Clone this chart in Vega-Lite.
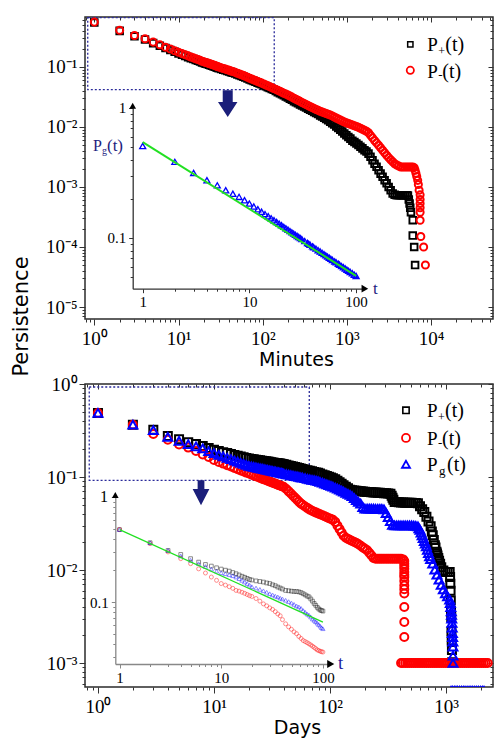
{
  "$schema": "https://vega.github.io/schema/vega-lite/v6.json",
  "background": "white",
  "padding": {"left": 9, "top": 10, "right": 5, "bottom": 5},
  "bounds": "flush",
  "spacing": 65,
  "config": {
    "view": {"stroke": "#2b2b2b", "strokeWidth": 1.5},
    "axis": {"grid": false, "domain": false, "labelFont": "Liberation Serif", "labelColor": "#000", "tickColor": "#333", "tickWidth": 1, "titleFont": "DejaVu Sans", "titleFontWeight": "normal", "titleColor": "#000", "labelOverlap": false, "labelFlush": false},
    "text": {"font": "Liberation Serif"}
  },
  "datasets": {
    "minutes": [
      {"t":1,"p":0.55,"m":0.56},{"t":2,"p":0.4,"m":0.41},{"t":3,"p":0.325,"m":0.335},{"t":4,"p":0.288,"m":0.295},{"t":5,"p":0.25,"m":0.26},{"t":6,"p":0.226,"m":0.234},{"t":7,"p":0.207,"m":0.214},{"t":8,"p":0.192,"m":0.199},{"t":9,"p":0.18,"m":0.187},{"t":10,"p":0.168,"m":0.176},
      {"t":11,"p":0.1595,"m":0.167},{"t":12,"p":0.1528,"m":0.16},{"t":13,"p":0.1461,"m":0.153},{"t":14,"p":0.1404,"m":0.147},{"t":15,"p":0.1356,"m":0.142},{"t":16,"p":0.1308,"m":0.137},{"t":17,"p":0.127,"m":0.133},{"t":18,"p":0.1232,"m":0.129},{"t":19,"p":0.1194,"m":0.125},{"t":20,"p":0.1165,"m":0.122},
      {"t":21,"p":0.1136,"m":0.119},{"t":22,"p":0.1117,"m":0.117},{"t":23,"p":0.1093,"m":0.1145},{"t":24,"p":0.107,"m":0.112},{"t":25,"p":0.105,"m":0.11},{"t":26,"p":0.1031,"m":0.108},{"t":27,"p":0.1012,"m":0.106},{"t":28,"p":0.0993,"m":0.104},{"t":29,"p":0.0974,"m":0.102},{"t":30,"p":0.0955,"m":0.1},
      {"t":32,"p":0.0927,"m":0.0971},{"t":34,"p":0.0902,"m":0.0945},{"t":36,"p":0.0881,"m":0.0922},{"t":38,"p":0.086,"m":0.09},{"t":40,"p":0.0839,"m":0.0879},{"t":42,"p":0.0821,"m":0.086},{"t":44,"p":0.0802,"m":0.084},{"t":47,"p":0.0776,"m":0.0813},{"t":50,"p":0.0753,"m":0.0788},{"t":53,"p":0.0731,"m":0.0765},
      {"t":56,"p":0.0709,"m":0.0742},{"t":59,"p":0.0688,"m":0.072},{"t":62,"p":0.0668,"m":0.0699},{"t":66,"p":0.0643,"m":0.0673},{"t":70,"p":0.0621,"m":0.065},{"t":74,"p":0.0602,"m":0.063},{"t":78,"p":0.0584,"m":0.0611},{"t":82,"p":0.0567,"m":0.0594},{"t":87,"p":0.0548,"m":0.0574},{"t":92,"p":0.0531,"m":0.0556},
      {"t":97,"p":0.0515,"m":0.0539},{"t":103,"p":0.0494,"m":0.052},{"t":109,"p":0.0477,"m":0.0502},{"t":115,"p":0.0462,"m":0.0486},{"t":121,"p":0.0447,"m":0.047},{"t":128,"p":0.0431,"m":0.0454},{"t":135,"p":0.0417,"m":0.0439},{"t":143,"p":0.0398,"m":0.0423},{"t":151,"p":0.0381,"m":0.0408},{"t":160,"p":0.0365,"m":0.0393},
      {"t":169,"p":0.0351,"m":0.0379},{"t":178,"p":0.0337,"m":0.0366},{"t":188,"p":0.0324,"m":0.0354},{"t":199,"p":0.031,"m":0.0341},{"t":210,"p":0.0297,"m":0.0328},{"t":222,"p":0.0284,"m":0.0315},{"t":235,"p":0.027,"m":0.0302},{"t":248,"p":0.0258,"m":0.029},{"t":262,"p":0.0248,"m":0.0279},{"t":277,"p":0.0238,"m":0.0267},
      {"t":293,"p":0.0228,"m":0.0256},{"t":310,"p":0.0219,"m":0.0246},{"t":327,"p":0.0211,"m":0.0237},{"t":346,"p":0.0202,"m":0.0227},{"t":365,"p":0.0194,"m":0.0219},{"t":386,"p":0.0186,"m":0.0211},{"t":408,"p":0.0178,"m":0.0203},{"t":431,"p":0.0171,"m":0.0196},{"t":455,"p":0.0164,"m":0.0189},{"t":481,"p":0.0156,"m":0.0183},
      {"t":508,"p":0.015,"m":0.0178},{"t":537,"p":0.0143,"m":0.0173},{"t":567,"p":0.0136,"m":0.0168},{"t":599,"p":0.0129,"m":0.0163},{"t":633,"p":0.0122,"m":0.0158},{"t":669,"p":0.0116,"m":0.0153},{"t":707,"p":0.011,"m":0.0147},{"t":747,"p":0.0102,"m":0.0141},{"t":789,"p":0.0096,"m":0.0136},{"t":834,"p":0.009,"m":0.0131},
      {"t":881,"p":0.0084,"m":0.0126},{"t":931,"p":0.0078,"m":0.0121},{"t":984,"p":0.0073,"m":0.0118},{"t":1040,"p":0.0068,"m":0.0114},{"t":1099,"p":0.0064,"m":0.0111},{"t":1161,"p":0.0059,"m":0.0108},{"t":1227,"p":0.0056,"m":0.0105},{"t":1296,"p":0.0053,"m":0.0102},{"t":1370,"p":0.005,"m":0.00985},{"t":1447,"p":0.0047,"m":0.0095},
      {"t":1529,"p":0.0044,"m":0.00916},{"t":1616,"p":0.0041,"m":0.00882},{"t":1707,"p":0.0039,"m":0.0085},{"t":1804,"p":0.0036,"m":0.008},{"t":1906,"p":0.0032,"m":0.00726},{"t":2014,"p":0.0028,"m":0.00658},{"t":2128,"p":0.00244,"m":0.00596},{"t":2249,"p":0.00217,"m":0.00543},{"t":2376,"p":0.0019,"m":0.00495},{"t":2511,"p":0.00167,"m":0.00451},
      {"t":2653,"p":0.00148,"m":0.0041},{"t":2803,"p":0.0013,"m":0.00373},{"t":2962,"p":0.00115,"m":0.00339},{"t":3130,"p":0.001,"m":0.00309},{"t":3307,"p":0.00088,"m":0.00285},{"t":3494,"p":0.00078,"m":0.00263},{"t":3692,"p":0.00074,"m":0.00244},{"t":3901,"p":0.00073,"m":0.00233},{"t":4122,"p":0.00073,"m":0.00224},{"t":4356,"p":0.00073,"m":0.00215},
      {"t":4603,"p":0.00073,"m":0.00215},{"t":4863,"p":0.00073,"m":0.00215},{"t":5139,"p":0.00073,"m":0.00215},{"t":5300,"p":0.00072},{"t":5430,"p":0.00062,"m":0.00215},{"t":5550,"p":0.00053},{"t":5650,"p":0.00045},{"t":5737,"m":0.00215},{"t":5760,"p":0.00038},{"t":6050,"p":0.00028},{"t":6050,"p":0.000155},{"t":6062,"m":0.00215},{"t":6290,"p":0.0001},{"t":6300,"m":0.0021},{"t":6450,"p":0.00005,"m":0.0019},
      {"t":6600,"m":0.0017},{"t":6750,"m":0.0015},{"t":6930,"m":0.00129},{"t":7050,"m":0.0011},{"t":7200,"m":0.00088},{"t":7400,"m":0.00074},{"t":7400,"m":0.00062},{"t":7400,"m":0.00053},{"t":7400,"m":0.00045},{"t":7400,"m":0.00038},{"t":7400,"m":0.00028},{"t":7540,"m":0.00015},{"t":8150,"m":0.0001},{"t":8550,"m":0.00005}
    ],
    "minutesPg": [{"t":1,"g":0.51},{"t":2,"g":0.385},{"t":3,"g":0.316},{"t":4,"g":0.278},{"t":5,"g":0.254},{"t":6,"g":0.233},{"t":7,"g":0.219},{"t":8,"g":0.207},{"t":9,"g":0.195},{"t":10,"g":0.184},{"t":11,"g":0.1746},{"t":12,"g":0.1663},{"t":13,"g":0.1591},{"t":14,"g":0.1527},{"t":15,"g":0.1469},{"t":16,"g":0.1417},{"t":17,"g":0.137},{"t":18,"g":0.1327},{"t":19,"g":0.1288},{"t":20,"g":0.1252},{"t":21,"g":0.1218},{"t":22,"g":0.1187},{"t":23,"g":0.1157},{"t":24,"g":0.113},{"t":25,"g":0.1105},{"t":26,"g":0.1081},{"t":27,"g":0.1058},{"t":28,"g":0.1037},{"t":29,"g":0.1017},{"t":30,"g":0.0998},{"t":31,"g":0.098},{"t":33,"g":0.0947},{"t":35,"g":0.0916},{"t":36,"g":0.0902},{"t":37,"g":0.0888},{"t":39,"g":0.0862},{"t":40,"g":0.085},{"t":42,"g":0.0828},{"t":44,"g":0.0806},{"t":46,"g":0.0787},{"t":48,"g":0.0768},{"t":50,"g":0.0751},{"t":52,"g":0.0735},{"t":54,"g":0.0719},{"t":56,"g":0.0705},{"t":58,"g":0.0691},{"t":60,"g":0.0678},{"t":63,"g":0.066},{"t":65,"g":0.0649},{"t":68,"g":0.0633},{"t":70,"g":0.0623},{"t":73,"g":0.0608},{"t":76,"g":0.0595},{"t":79,"g":0.0582},{"t":82,"g":0.057},{"t":85,"g":0.0559},{"t":88,"g":0.0548},{"t":92,"g":0.0535},{"t":96,"g":0.0522},{"t":100,"g":0.051}],
    "minutesFit": [{"t":1,"g":0.547},{"t":100,"g":0.051}],
    "days": [
      {"t":1,"p":0.488,"m":0.488,"g":0.488},{"t":2,"p":0.365,"m":0.365,"g":0.365},{"t":3,"p":0.322,"m":0.29,"g":0.32},{"t":4,"p":0.276,"m":0.252,"g":0.27},{"t":5,"p":0.254,"m":0.224,"g":0.244},{"t":6,"p":0.236,"m":0.207,"g":0.226},{"t":7,"p":0.226,"m":0.19,"g":0.213},{"t":8,"p":0.216,"m":0.175,"g":0.203},{"t":9,"p":0.205,"m":0.164,"g":0.19},{"t":10,"p":0.196,"m":0.152,"g":0.181},
      {"t":11,"p":0.1903,"m":0.1452,"g":0.1732},{"t":12,"p":0.1851,"m":0.1393,"g":0.1666},{"t":13,"p":0.1808,"m":0.134,"g":0.1606},{"t":14,"p":0.1765,"m":0.1295,"g":0.1552},{"t":15,"p":0.1727,"m":0.1251,"g":0.1504},{"t":16,"p":0.1693,"m":0.1212,"g":0.146},{"t":17,"p":0.1661,"m":0.1177,"g":0.142},{"t":18,"p":0.1632,"m":0.1145,"g":0.1384},{"t":19,"p":0.1605,"m":0.1115,"g":0.135},{"t":20,"p":0.158,"m":0.109,"g":0.132},
      {"t":21,"p":0.1564,"m":0.1065,"g":0.1302},{"t":22,"p":0.155,"m":0.1041,"g":0.1285},{"t":23,"p":0.1536,"m":0.1019,"g":0.1269},{"t":24,"p":0.1522,"m":0.0998,"g":0.1254},{"t":25,"p":0.151,"m":0.0979,"g":0.124},{"t":26,"p":0.1498,"m":0.096,"g":0.1227},{"t":27,"p":0.1486,"m":0.0943,"g":0.1214},{"t":28,"p":0.1475,"m":0.0927,"g":0.1202},{"t":29,"p":0.1465,"m":0.0911,"g":0.119},{"t":30,"p":0.1455,"m":0.0897,"g":0.1179},
      {"t":31,"p":0.1445,"m":0.0883,"g":0.1169},{"t":32,"p":0.1436,"m":0.0869,"g":0.1159},{"t":33,"p":0.1427,"m":0.0857,"g":0.1149},{"t":34,"p":0.1418,"m":0.0845,"g":0.1139},{"t":35,"p":0.141,"m":0.0833,"g":0.113},{"t":36,"p":0.1402,"m":0.0822,"g":0.1121},{"t":37,"p":0.1394,"m":0.0811,"g":0.1113},{"t":38,"p":0.1387,"m":0.0801,"g":0.1105},{"t":39,"p":0.1379,"m":0.0791,"g":0.1097},{"t":40,"p":0.1372,"m":0.0782,"g":0.109},
      {"t":42,"p":0.1353,"m":0.0743,"g":0.1075},{"t":44,"p":0.1333,"m":0.0701,"g":0.1061},{"t":46,"p":0.1314,"m":0.0664,"g":0.1048},{"t":48,"p":0.1296,"m":0.0629,"g":0.1036},{"t":50,"p":0.128,"m":0.0597,"g":0.1024},{"t":52,"p":0.1264,"m":0.0569,"g":0.1013},{"t":54,"p":0.1249,"m":0.0543,"g":0.1003},{"t":56,"p":0.1235,"m":0.0519,"g":0.0993},{"t":58,"p":0.1221,"m":0.0503,"g":0.0983},{"t":61,"p":0.1202,"m":0.0482,"g":0.097},
      {"t":64,"p":0.1184,"m":0.0463,"g":0.0957},{"t":67,"p":0.1166,"m":0.0446,"g":0.0945},{"t":70,"p":0.115,"m":0.0433,"g":0.0934},{"t":73,"p":0.1135,"m":0.0423,"g":0.0923},{"t":76,"p":0.112,"m":0.0414,"g":0.0913},{"t":79,"p":0.1108,"m":0.0405,"g":0.0904},{"t":82,"p":0.1088,"m":0.0398,"g":0.0887},{"t":86,"p":0.1065,"m":0.0388,"g":0.0868},{"t":90,"p":0.1044,"m":0.0378,"g":0.085},{"t":94,"p":0.1024,"m":0.0369,"g":0.0833},
      {"t":98,"p":0.1006,"m":0.0361,"g":0.0817},{"t":102,"p":0.0989,"m":0.0354,"g":0.0802},{"t":106,"p":0.0972,"m":0.0346,"g":0.0788},{"t":111,"p":0.0945,"m":0.0329,"g":0.0771},{"t":116,"p":0.0909,"m":0.03,"g":0.0751},{"t":121,"p":0.0876,"m":0.0275,"g":0.0731},{"t":126,"p":0.0845,"m":0.0253,"g":0.0713},{"t":131,"p":0.0817,"m":0.0233,"g":0.0695},{"t":137,"p":0.0786,"m":0.0222,"g":0.0676},{"t":143,"p":0.0757,"m":0.0216,"g":0.066},
      {"t":149,"p":0.073,"m":0.021,"g":0.0643},{"t":155,"p":0.0719,"m":0.0205,"g":0.0622},{"t":162,"p":0.0714,"m":0.02,"g":0.0593},{"t":169,"p":0.071,"m":0.0195,"g":0.0565},{"t":176,"p":0.0706,"m":0.0189,"g":0.054},{"t":184,"p":0.0702,"m":0.0182,"g":0.0516},{"t":192,"p":0.0698,"m":0.0175,"g":0.0475},{"t":200,"p":0.0694,"m":0.0169,"g":0.0456},{"t":209,"p":0.069,"m":0.0163,"g":0.0456},{"t":218,"p":0.0688,"m":0.0153,"g":0.0456},
      {"t":227,"p":0.0686,"m":0.0144,"g":0.0456},{"t":237,"p":0.0683,"m":0.0135,"g":0.0456},{"t":247,"p":0.0681,"m":0.0132,"g":0.0455},{"t":258,"p":0.0678,"m":0.0132,"g":0.0455},{"t":269,"p":0.0676,"m":0.0132,"g":0.0455},{"t":280,"p":0.0673,"m":0.0132,"g":0.0453},{"t":292,"p":0.067,"m":0.0132,"g":0.0448},{"t":305,"p":0.0667,"m":0.0132,"g":0.041},{"t":318,"p":0.0664,"m":0.0132,"g":0.037},{"t":332,"p":0.0661,"m":0.0132,"g":0.0335},
      {"t":340,"p":0.063},{"t":346,"p":0.06,"m":0.0132,"g":0.0305},{"t":352,"p":0.057},{"t":361,"p":0.0539,"m":0.0132,"g":0.0302},{"t":376,"p":0.0537,"m":0.0132,"g":0.0302},{"t":392,"p":0.0535,"m":0.0132,"g":0.0302},{"t":409,"p":0.0533,"m":0.0132,"g":0.0302},{"t":427,"p":0.0531,"m":0.013,"g":0.0302},
      {"t":437,"m":0.0125},{"t":437,"m":0.0117},{"t":437,"m":0.011},{"t":437,"m":0.0103},{"t":437,"m":0.0095},{"t":437,"m":0.0089},{"t":437,"m":0.0084},{"t":437,"m":0.0076},{"t":437,"m":0.0068},{"t":437,"m":0.0062},{"t":437,"m":0.0056},{"t":437,"m":0.004},{"t":437,"m":0.00276},{"t":437,"m":0.0019},
      {"t":445,"p":0.053,"g":0.0302},{"t":464,"p":0.0529,"g":0.0302},{"t":484,"p":0.0528,"g":0.0302},{"t":505,"p":0.0527,"g":0.0301},{"t":527,"p":0.0526,"g":0.03},{"t":549,"p":0.0525,"g":0.0298},{"t":573,"p":0.0523,"g":0.0294},{"t":585,"g":0.028},{"t":597,"p":0.0485,"g":0.027},{"t":610,"g":0.0252},
      {"t":623,"p":0.0451,"g":0.0235},{"t":636,"g":0.022},{"t":650,"p":0.042,"g":0.0205},{"t":664,"g":0.0192},{"t":678,"p":0.0373,"g":0.018},{"t":692,"g":0.0165},{"t":707,"p":0.0332,"g":0.0152},{"t":722,"g":0.014},{"t":737,"p":0.0296,"g":0.0131},{"t":755,"p":0.026},
      {"t":769,"p":0.0236,"g":0.0117},{"t":785,"p":0.021},{"t":802,"p":0.0185,"g":0.0101},{"t":812,"p":0.0175},{"t":828,"p":0.0157},{"t":836,"p":0.015,"g":0.0089},{"t":845,"p":0.0143},{"t":858,"p":0.0135},{"t":872,"p":0.0126,"g":0.0079},{"t":890,"p":0.0117},
      {"t":910,"p":0.0107,"g":0.0069},{"t":949,"p":0.0099,"g":0.0062},{"t":990,"p":0.0095,"g":0.0056},{"t":1032,"p":0.0095,"g":0.0052},{"t":1076,"p":0.0095,"g":0.0048},
      {"t":1085,"p":0.0084},{"t":1090,"p":0.0071,"g":0.0044},{"t":1095,"p":0.006},{"t":1100,"p":0.0047,"g":0.004},{"t":1105,"p":0.0036},{"t":1110,"p":0.0031,"g":0.0036},{"t":1115,"p":0.0022,"g":0.0033},{"t":1120,"p":0.00175,"g":0.003},{"t":1125,"p":0.00138,"g":0.0027},{"t":1130,"p":0.00102,"g":0.0024},
      {"t":1135,"g":0.0021},{"t":1140,"g":0.0019},{"t":1145,"g":0.0017},{"t":1148,"g":0.0015},{"t":1150,"g":0.0012},
      {"t":410,"m":0.001},{"t":425,"m":0.001},{"t":445,"m":0.001},{"t":464,"m":0.001},{"t":484,"m":0.001},{"t":505,"m":0.001},{"t":527,"m":0.001},{"t":549,"m":0.001},{"t":573,"m":0.001},{"t":597,"m":0.001},{"t":623,"m":0.001},{"t":650,"m":0.001},{"t":678,"m":0.001},{"t":707,"m":0.001},{"t":737,"m":0.001},{"t":769,"m":0.001},{"t":802,"m":0.001},{"t":836,"m":0.001},{"t":872,"m":0.001},{"t":910,"m":0.001},{"t":949,"m":0.001},
      {"t":990,"m":0.001},{"t":1032,"m":0.001},{"t":1076,"m":0.001},{"t":1122,"m":0.001},{"t":1170,"m":0.001},{"t":1220,"m":0.001},{"t":1272,"m":0.001},{"t":1327,"m":0.001},{"t":1384,"m":0.001},{"t":1443,"m":0.001},{"t":1505,"m":0.001},{"t":1570,"m":0.001},{"t":1637,"m":0.001},{"t":1707,"m":0.001},{"t":1780,"m":0.001},{"t":1857,"m":0.001},{"t":1936,"m":0.001},{"t":2019,"m":0.001},{"t":2106,"m":0.001},{"t":2196,"m":0.001},{"t":2290,"m":0.001},
      {"t":1150,"g":0.001},
      {"t":1105,"g":0.0005},{"t":1140,"g":0.0005},{"t":1180,"g":0.0005},{"t":1220,"g":0.0005},{"t":1260,"g":0.0005},{"t":1310,"g":0.0005},{"t":1360,"g":0.0005},{"t":1410,"g":0.0005},{"t":1460,"g":0.0005},{"t":1520,"g":0.0005},{"t":1580,"g":0.0005},{"t":1640,"g":0.0005},{"t":1700,"g":0.0005},{"t":1770,"g":0.0005},{"t":1840,"g":0.0005},{"t":1910,"g":0.0005},{"t":1990,"g":0.0005},{"t":2060,"g":0.0005},{"t":2128,"g":0.0005}
    ],
    "daysInset": [
      {"t":1,"p":0.49,"m":0.49,"g":0.49},{"t":2,"p":0.367,"m":0.36,"g":0.367},{"t":3,"p":0.31,"m":0.3,"g":0.31},{"t":4,"p":0.284,"m":0.259,"g":0.275},{"t":5,"p":0.259,"m":0.232,"g":0.25},{"t":6,"p":0.24,"m":0.207,"g":0.232},{"t":7,"p":0.228,"m":0.189,"g":0.218},{"t":8,"p":0.22,"m":0.173,"g":0.206},{"t":9,"p":0.212,"m":0.161,"g":0.197},{"t":10,"p":0.206,"m":0.15,"g":0.19},
      {"t":11,"p":0.201,"m":0.145,"g":0.186},{"t":12,"p":0.197,"m":0.14,"g":0.182},{"t":13,"p":0.191,"m":0.135,"g":0.178},{"t":14,"p":0.186,"m":0.129,"g":0.173},{"t":15,"p":0.181,"m":0.127,"g":0.167},{"t":16,"p":0.176,"m":0.124,"g":0.161},{"t":17,"p":0.172,"m":0.121,"g":0.155},{"t":18,"p":0.168,"m":0.118,"g":0.15},{"t":19,"p":0.164,"m":0.115,"g":0.145},{"t":20,"p":0.162,"m":0.113,"g":0.14},
      {"t":22,"p":0.159,"m":0.108,"g":0.136},{"t":24,"p":0.157,"m":0.102,"g":0.132},{"t":26,"p":0.155,"m":0.096,"g":0.128},{"t":28,"p":0.152,"m":0.092,"g":0.124},{"t":30,"p":0.15,"m":0.088,"g":0.12},{"t":32,"p":0.146,"m":0.085,"g":0.117},{"t":34,"p":0.143,"m":0.081,"g":0.114},{"t":36,"p":0.139,"m":0.077,"g":0.112},{"t":38,"p":0.136,"m":0.074,"g":0.109},{"t":40,"p":0.133,"m":0.068,"g":0.107},
      {"t":43,"p":0.129,"m":0.062,"g":0.104},{"t":46,"p":0.128,"m":0.058,"g":0.101},{"t":49,"p":0.127,"m":0.055,"g":0.098},{"t":52,"p":0.126,"m":0.052,"g":0.095},{"t":55,"p":0.126,"m":0.05,"g":0.092},{"t":58,"p":0.125,"m":0.047,"g":0.09},{"t":61,"p":0.123,"m":0.045,"g":0.087},{"t":64,"p":0.12,"m":0.043,"g":0.083},{"t":67,"p":0.117,"m":0.042,"g":0.08},{"t":70,"p":0.114,"m":0.041,"g":0.077},
      {"t":73,"p":0.112,"m":0.04,"g":0.075},{"t":76,"p":0.107,"m":0.039,"g":0.072},{"t":79,"p":0.102,"m":0.038,"g":0.069},{"t":82,"p":0.097,"m":0.037,"g":0.067},{"t":85,"p":0.093,"m":0.036,"g":0.065},{"t":88,"p":0.089,"m":0.035,"g":0.063},{"t":91,"p":0.086,"m":0.0345,"g":0.061},{"t":94,"p":0.084,"m":0.034,"g":0.059},{"t":97,"p":0.083,"m":0.0337,"g":0.057},{"t":100,"p":0.082,"m":0.0334,"g":0.0557}
    ],
    "daysFit": [{"t":1,"g":0.49},{"t":100,"g":0.0645}]
  },
  "vconcat": [
    {
      "width": 408,
      "height": 302,
      "resolve": {"scale": {"x": "independent", "y": "independent"}},
      "layer": [
        {
          "data": {"values": [{}]},
          "mark": {"type": "rect", "filled": false, "stroke": "#2a2a9a", "strokeWidth": 1.3, "strokeDash": [2, 2]},
          "encoding": {
            "x": {"datum": 0.835, "type": "quantitative", "scale": {"type": "log", "domain": [0.775, 54300], "nice": false},
              "axis": {"orient": "bottom", "offset": -302, "labels": false, "title": null, "tickCount": 60, "values": [0.8,0.9,1,2,3,4,5,6,7,8,9,10,20,30,40,50,60,70,80,90,100,200,300,400,500,600,700,800,900,1000,2000,3000,4000,5000,6000,7000,8000,9000,10000,20000,30000,40000,50000],
                "tickSize": {"condition": {"test": "abs(log(datum.value)/LN10-round(log(datum.value)/LN10))<0.01", "value": 5}, "value": 3}}},
            "x2": {"datum": 137},
            "y": {"datum": 0.664, "type": "quantitative", "scale": {"type": "log", "domain": [6.31e-6, 0.681], "nice": false},
              "axis": {"orient": "left", "offset": -408, "labels": false, "title": null, "tickCount": 60, "values": [7e-6,8e-6,9e-6,1e-5,2e-5,3e-5,4e-5,5e-5,6e-5,7e-5,8e-5,9e-5,1e-4,2e-4,3e-4,4e-4,5e-4,6e-4,7e-4,8e-4,9e-4,0.001,0.002,0.003,0.004,0.005,0.006,0.007,0.008,0.009,0.01,0.02,0.03,0.04,0.05,0.06,0.07,0.08,0.09,0.1,0.2,0.3,0.4,0.5,0.6],
                "tickSize": {"condition": {"test": "abs(log(datum.value)/LN10-round(log(datum.value)/LN10))<0.01", "value": 5}, "value": 3}}},
            "y2": {"datum": 0.0418}
          }
        },
        {
          "data": {"name": "minutes"},
          "transform": [{"filter": "datum.p > 0"}],
          "mark": {"type": "point", "shape": "square", "size": 44, "filled": false, "color": "#000000", "strokeWidth": 1.9, "opacity": 1},
          "encoding": {
            "x": {"field": "t", "type": "quantitative", "scale": {"type": "log", "domain": [0.775, 54300], "nice": false},
              "axis": {"orient": "bottom", "tickCount": 60, "values": [0.8,0.9,1,2,3,4,5,6,7,8,9,10,20,30,40,50,60,70,80,90,100,200,300,400,500,600,700,800,900,1000,2000,3000,4000,5000,6000,7000,8000,9000,10000,20000,30000,40000,50000],
                "labelExpr": "abs(log(datum.value)/LN10-round(log(datum.value)/LN10))<0.01 ? '10'+['⁻⁵','⁻⁴','⁻³','⁻²','⁻¹','⁰','¹','²','³','⁴'][round(log(datum.value)/LN10)+5] : ''",
                "tickSize": {"condition": {"test": "abs(log(datum.value)/LN10-round(log(datum.value)/LN10))<0.01", "value": 6}, "value": 3},
                "labelFontSize": 19, "labelPadding": 4,
                "title": "Minutes", "titleFontSize": 19, "titleX": 211, "titleY": 46, "titleBaseline": "alphabetic", "titleAlign": "center"}},
            "y": {"field": "p", "type": "quantitative", "scale": {"type": "log", "domain": [6.31e-6, 0.681], "nice": false},
              "axis": {"orient": "left", "tickCount": 60, "values": [7e-6,8e-6,9e-6,1e-5,2e-5,3e-5,4e-5,5e-5,6e-5,7e-5,8e-5,9e-5,1e-4,2e-4,3e-4,4e-4,5e-4,6e-4,7e-4,8e-4,9e-4,0.001,0.002,0.003,0.004,0.005,0.006,0.007,0.008,0.009,0.01,0.02,0.03,0.04,0.05,0.06,0.07,0.08,0.09,0.1,0.2,0.3,0.4,0.5,0.6],
                "labelExpr": "abs(log(datum.value)/LN10-round(log(datum.value)/LN10))<0.01 ? '10'+['⁻⁵','⁻⁴','⁻³','⁻²','⁻¹','⁰','¹','²','³','⁴'][round(log(datum.value)/LN10)+5] : ''",
                "tickSize": {"condition": {"test": "abs(log(datum.value)/LN10-round(log(datum.value)/LN10))<0.01", "value": 6}, "value": 3},
                "labelFontSize": 19, "labelPadding": 2,
                "title": "Persistence", "titleFontSize": 21, "titleAngle": 270, "titleX": -54, "titleY": 299, "titleBaseline": "bottom", "titleAlign": "center"}}
          }
        },
        {
          "data": {"name": "minutes"},
          "transform": [{"filter": "datum.m > 0"}],
          "mark": {"type": "point", "shape": "circle", "size": 50, "filled": false, "color": "#ff0000", "strokeWidth": 2, "opacity": 1},
          "encoding": {
            "x": {"field": "t", "type": "quantitative", "scale": {"type": "log", "domain": [0.775, 54300], "nice": false}, "axis": null},
            "y": {"field": "m", "type": "quantitative", "scale": {"type": "log", "domain": [6.31e-6, 0.681], "nice": false}, "axis": null}
          }
        },
        {
          "data": {"values": [{}]},
          "mark": {"type": "point", "shape": "M-0.375,-1L0.375,-1L0.375,-0.13L0.73,-0.13L0,1L-0.73,-0.13L-0.375,-0.13Z", "size": 711, "filled": true, "color": "#1b1f7a", "opacity": 1},
          "encoding": {
            "x": {"datum": 38.4, "type": "quantitative", "scale": {"type": "log", "domain": [0.775, 54300], "nice": false}, "axis": null},
            "y": {"datum": 0.0245, "type": "quantitative", "scale": {"type": "log", "domain": [6.31e-6, 0.681], "nice": false}, "axis": null}
          }
        },
        {
          "data": {"values": [{}]},
          "mark": {"type": "point", "shape": "square", "size": 28, "filled": false, "color": "#000000", "strokeWidth": 1.5, "opacity": 1},
          "encoding": {
            "x": {"datum": 5660, "type": "quantitative", "scale": {"type": "log", "domain": [0.775, 54300], "nice": false}, "axis": null},
            "y": {"datum": 0.239, "type": "quantitative", "scale": {"type": "log", "domain": [6.31e-6, 0.681], "nice": false}, "axis": null}
          }
        },
        {
          "data": {"values": [{}]},
          "mark": {"type": "point", "shape": "circle", "size": 52, "filled": false, "color": "#ff0000", "strokeWidth": 1.8, "opacity": 1},
          "encoding": {
            "x": {"datum": 5660, "type": "quantitative", "scale": {"type": "log", "domain": [0.775, 54300], "nice": false}, "axis": null},
            "y": {"datum": 0.088, "type": "quantitative", "scale": {"type": "log", "domain": [6.31e-6, 0.681], "nice": false}, "axis": null}
          }
        },
        {
          "data": {"values": [{}]},
          "mark": {"type": "text", "text": "P", "fontSize": 19, "align": "left", "baseline": "alphabetic", "dx": 17, "dy": 7, "color": "#000"},
          "encoding": {
            "x": {"datum": 5660, "type": "quantitative", "scale": {"type": "log", "domain": [0.775, 54300], "nice": false}, "axis": null},
            "y": {"datum": 0.239, "type": "quantitative", "scale": {"type": "log", "domain": [6.31e-6, 0.681], "nice": false}, "axis": null}
          }
        },
        {
          "data": {"values": [{}]},
          "mark": {"type": "text", "text": "+", "fontSize": 12, "align": "left", "baseline": "alphabetic", "dx": 28, "dy": 11, "color": "#000"},
          "encoding": {
            "x": {"datum": 5660, "type": "quantitative", "scale": {"type": "log", "domain": [0.775, 54300], "nice": false}, "axis": null},
            "y": {"datum": 0.239, "type": "quantitative", "scale": {"type": "log", "domain": [6.31e-6, 0.681], "nice": false}, "axis": null}
          }
        },
        {
          "data": {"values": [{}]},
          "mark": {"type": "text", "text": "(t)", "fontSize": 20, "align": "left", "baseline": "alphabetic", "dx": 35, "dy": 7, "color": "#000"},
          "encoding": {
            "x": {"datum": 5660, "type": "quantitative", "scale": {"type": "log", "domain": [0.775, 54300], "nice": false}, "axis": null},
            "y": {"datum": 0.239, "type": "quantitative", "scale": {"type": "log", "domain": [6.31e-6, 0.681], "nice": false}, "axis": null}
          }
        },
        {
          "data": {"values": [{}]},
          "mark": {"type": "text", "text": "P", "fontSize": 19, "align": "left", "baseline": "alphabetic", "dx": 17, "dy": 8, "color": "#000"},
          "encoding": {
            "x": {"datum": 5660, "type": "quantitative", "scale": {"type": "log", "domain": [0.775, 54300], "nice": false}, "axis": null},
            "y": {"datum": 0.088, "type": "quantitative", "scale": {"type": "log", "domain": [6.31e-6, 0.681], "nice": false}, "axis": null}
          }
        },
        {
          "data": {"values": [{}]},
          "mark": {"type": "text", "text": "-", "fontSize": 13, "align": "left", "baseline": "alphabetic", "dx": 28, "dy": 9, "color": "#000"},
          "encoding": {
            "x": {"datum": 5660, "type": "quantitative", "scale": {"type": "log", "domain": [0.775, 54300], "nice": false}, "axis": null},
            "y": {"datum": 0.088, "type": "quantitative", "scale": {"type": "log", "domain": [6.31e-6, 0.681], "nice": false}, "axis": null}
          }
        },
        {
          "data": {"values": [{}]},
          "mark": {"type": "text", "text": "(t)", "fontSize": 20, "align": "left", "baseline": "alphabetic", "dx": 32, "dy": 8, "color": "#000"},
          "encoding": {
            "x": {"datum": 5660, "type": "quantitative", "scale": {"type": "log", "domain": [0.775, 54300], "nice": false}, "axis": null},
            "y": {"datum": 0.088, "type": "quantitative", "scale": {"type": "log", "domain": [6.31e-6, 0.681], "nice": false}, "axis": null}
          }
        },
        {
          "data": {"name": "minutesPg"},
          "mark": {"type": "point", "shape": "triangle-up", "size": 36, "filled": false, "color": "#0000ff", "strokeWidth": 1.3, "opacity": 1},
          "encoding": {
            "x": {"field": "t", "type": "quantitative", "scale": {"type": "log", "domain": [0.806, 115.3], "range": [47.7, 277.7], "nice": false},
              "axis": {"orient": "bottom", "offset": -30.3, "tickCount": 40, "values": [1,2,3,4,5,6,7,8,9,10,20,30,40,50,60,70,80,90,100],
                "labelExpr": "datum.value == 1 ? '1' : datum.value == 10 ? '10' : datum.value == 100 ? '100' : ''",
                "tickSize": {"condition": {"test": "abs(log(datum.value)/LN10-round(log(datum.value)/LN10))<0.01", "value": 4}, "value": 2.5},
                "domain": true, "domainColor": "#333", "domainWidth": 1.3, "tickColor": "#333", "labelFontSize": 15, "labelPadding": 2, "labelOverlap": false, "title": null}},
            "y": {"field": "g", "type": "quantitative", "scale": {"type": "log", "domain": [0.0407, 1.005], "range": [271.7, 90.7], "nice": false},
              "axis": {"orient": "left", "offset": -47.7, "tickCount": 40, "values": [0.05,0.06,0.07,0.08,0.09,0.1,0.2,0.3,0.4,0.5,0.6,0.7,0.8,0.9,1],
                "labelExpr": "datum.value == 1 ? '1' : datum.value == 0.1 ? '0.1' : ''",
                "tickSize": {"condition": {"test": "abs(log(datum.value)/LN10-round(log(datum.value)/LN10))<0.01", "value": 4}, "value": 2.5},
                "domain": true, "domainColor": "#333", "domainWidth": 1.3, "tickColor": "#333", "labelFontSize": 15, "labelPadding": 3, "labelOverlap": false, "title": null}}
          }
        },
        {
          "data": {"name": "minutesFit"},
          "mark": {"type": "line", "color": "#22e022", "strokeWidth": 2},
          "encoding": {
            "x": {"field": "t", "type": "quantitative", "scale": {"type": "log", "domain": [0.806, 115.3], "range": [47.7, 277.7], "nice": false}, "axis": null},
            "y": {"field": "g", "type": "quantitative", "scale": {"type": "log", "domain": [0.0407, 1.005], "range": [271.7, 90.7], "nice": false}, "axis": null}
          }
        },
        {
          "data": {"values": [{}]},
          "mark": {"type": "point", "shape": "triangle-up", "size": 45, "filled": true, "color": "#000", "opacity": 1},
          "encoding": {
            "x": {"datum": 0.806, "type": "quantitative", "scale": {"type": "log", "domain": [0.806, 115.3], "range": [47.7, 277.7], "nice": false}, "axis": null},
            "y": {"datum": 1.04, "type": "quantitative", "scale": {"type": "log", "domain": [0.0407, 1.005], "range": [271.7, 90.7], "nice": false}, "axis": null}
          }
        },
        {
          "data": {"values": [{}]},
          "mark": {"type": "point", "shape": "triangle-right", "size": 59, "filled": true, "color": "#000", "opacity": 1},
          "encoding": {
            "x": {"datum": 120.9, "type": "quantitative", "scale": {"type": "log", "domain": [0.806, 115.3], "range": [47.7, 277.7], "nice": false}, "axis": null},
            "y": {"datum": 0.0407, "type": "quantitative", "scale": {"type": "log", "domain": [0.0407, 1.005], "range": [271.7, 90.7], "nice": false}, "axis": null}
          }
        },
        {
          "data": {"values": [{}]},
          "mark": {"type": "text", "text": "P", "fontSize": 16, "align": "left", "baseline": "alphabetic", "color": "#1d1d80"},
          "encoding": {
            "x": {"datum": 0.342, "type": "quantitative", "scale": {"type": "log", "domain": [0.806, 115.3], "range": [47.7, 277.7], "nice": false}, "axis": null},
            "y": {"datum": 0.47, "type": "quantitative", "scale": {"type": "log", "domain": [0.0407, 1.005], "range": [271.7, 90.7], "nice": false}, "axis": null}
          }
        },
        {
          "data": {"values": [{}]},
          "mark": {"type": "text", "text": "g", "fontSize": 10, "align": "left", "baseline": "alphabetic", "dx": 9, "dy": 3, "color": "#1d1d80"},
          "encoding": {
            "x": {"datum": 0.342, "type": "quantitative", "scale": {"type": "log", "domain": [0.806, 115.3], "range": [47.7, 277.7], "nice": false}, "axis": null},
            "y": {"datum": 0.47, "type": "quantitative", "scale": {"type": "log", "domain": [0.0407, 1.005], "range": [271.7, 90.7], "nice": false}, "axis": null}
          }
        },
        {
          "data": {"values": [{}]},
          "mark": {"type": "text", "text": "(t)", "fontSize": 17, "align": "left", "baseline": "alphabetic", "dx": 14, "color": "#1d1d80"},
          "encoding": {
            "x": {"datum": 0.342, "type": "quantitative", "scale": {"type": "log", "domain": [0.806, 115.3], "range": [47.7, 277.7], "nice": false}, "axis": null},
            "y": {"datum": 0.47, "type": "quantitative", "scale": {"type": "log", "domain": [0.0407, 1.005], "range": [271.7, 90.7], "nice": false}, "axis": null}
          }
        },
        {
          "data": {"values": [{}]},
          "mark": {"type": "text", "text": "t", "fontSize": 17, "align": "left", "baseline": "alphabetic", "color": "#1d1d80"},
          "encoding": {
            "x": {"datum": 144, "type": "quantitative", "scale": {"type": "log", "domain": [0.806, 115.3], "range": [47.7, 277.7], "nice": false}, "axis": null},
            "y": {"datum": 0.0371, "type": "quantitative", "scale": {"type": "log", "domain": [0.0407, 1.005], "range": [271.7, 90.7], "nice": false}, "axis": null}
          }
        }
      ]
    },
    {
      "width": 408,
      "height": 303,
      "resolve": {"scale": {"x": "independent", "y": "independent"}},
      "layer": [
        {
          "data": {"values": [{}]},
          "mark": {"type": "rect", "filled": false, "stroke": "#2a2a9a", "strokeWidth": 1.3, "strokeDash": [2, 2]},
          "encoding": {
            "x": {"datum": 0.841, "type": "quantitative", "scale": {"type": "log", "domain": [0.773, 2542], "nice": false},
              "axis": {"orient": "bottom", "offset": -303, "labels": false, "title": null, "tickCount": 60, "values": [0.8,0.9,1,2,3,4,5,6,7,8,9,10,20,30,40,50,60,70,80,90,100,200,300,400,500,600,700,800,900,1000,2000],
                "tickSize": {"condition": {"test": "abs(log(datum.value)/LN10-round(log(datum.value)/LN10))<0.01", "value": 5}, "value": 3}}},
            "x2": {"datum": 66.3},
            "y": {"datum": 0.928, "type": "quantitative", "scale": {"type": "log", "domain": [5.52e-4, 1], "nice": false},
              "axis": {"orient": "left", "offset": -408, "labels": false, "title": null, "tickCount": 60, "values": [6e-4,7e-4,8e-4,9e-4,0.001,0.002,0.003,0.004,0.005,0.006,0.007,0.008,0.009,0.01,0.02,0.03,0.04,0.05,0.06,0.07,0.08,0.09,0.1,0.2,0.3,0.4,0.5,0.6,0.7,0.8,0.9,1],
                "tickSize": {"condition": {"test": "abs(log(datum.value)/LN10-round(log(datum.value)/LN10))<0.01", "value": 5}, "value": 3}}},
            "y2": {"datum": 0.0922}
          }
        },
        {
          "data": {"name": "days"},
          "transform": [{"filter": "datum.p > 0"}],
          "mark": {"type": "point", "shape": "square", "size": 64, "filled": false, "color": "#000000", "strokeWidth": 2, "opacity": 1},
          "encoding": {
            "x": {"field": "t", "type": "quantitative", "scale": {"type": "log", "domain": [0.773, 2542], "nice": false},
              "axis": {"orient": "bottom", "tickCount": 60, "values": [0.8,0.9,1,2,3,4,5,6,7,8,9,10,20,30,40,50,60,70,80,90,100,200,300,400,500,600,700,800,900,1000,2000],
                "labelExpr": "abs(log(datum.value)/LN10-round(log(datum.value)/LN10))<0.01 ? '10'+['⁻⁵','⁻⁴','⁻³','⁻²','⁻¹','⁰','¹','²','³','⁴'][round(log(datum.value)/LN10)+5] : ''",
                "tickSize": {"condition": {"test": "abs(log(datum.value)/LN10-round(log(datum.value)/LN10))<0.01", "value": 6}, "value": 3},
                "labelFontSize": 19, "labelPadding": 4,
                "title": "Days", "titleFontSize": 19, "titleX": 212, "titleY": 46, "titleBaseline": "alphabetic", "titleAlign": "center"}},
            "y": {"field": "p", "type": "quantitative", "scale": {"type": "log", "domain": [5.52e-4, 1], "nice": false},
              "axis": {"orient": "left", "tickCount": 60, "values": [6e-4,7e-4,8e-4,9e-4,0.001,0.002,0.003,0.004,0.005,0.006,0.007,0.008,0.009,0.01,0.02,0.03,0.04,0.05,0.06,0.07,0.08,0.09,0.1,0.2,0.3,0.4,0.5,0.6,0.7,0.8,0.9,1],
                "labelExpr": "abs(log(datum.value)/LN10-round(log(datum.value)/LN10))<0.01 ? '10'+['⁻⁵','⁻⁴','⁻³','⁻²','⁻¹','⁰','¹','²','³','⁴'][round(log(datum.value)/LN10)+5] : ''",
                "tickSize": {"condition": {"test": "abs(log(datum.value)/LN10-round(log(datum.value)/LN10))<0.01", "value": 6}, "value": 3},
                "labelFontSize": 19, "labelPadding": 2, "title": null}}
          }
        },
        {
          "data": {"name": "days"},
          "transform": [{"filter": "datum.m > 0"}],
          "mark": {"type": "point", "shape": "circle", "size": 64, "filled": false, "color": "#ff0000", "strokeWidth": 2, "opacity": 1},
          "encoding": {
            "x": {"field": "t", "type": "quantitative", "scale": {"type": "log", "domain": [0.773, 2542], "nice": false}, "axis": null},
            "y": {"field": "m", "type": "quantitative", "scale": {"type": "log", "domain": [5.52e-4, 1], "nice": false}, "axis": null}
          }
        },
        {
          "data": {"name": "days"},
          "transform": [{"filter": "datum.g > 0"}],
          "mark": {"type": "point", "shape": "triangle-up", "size": 80, "filled": false, "color": "#0000ff", "strokeWidth": 2, "opacity": 1, "clip": true},
          "encoding": {
            "x": {"field": "t", "type": "quantitative", "scale": {"type": "log", "domain": [0.773, 2542], "nice": false}, "axis": null},
            "y": {"field": "g", "type": "quantitative", "scale": {"type": "log", "domain": [5.52e-4, 1], "nice": false}, "axis": null}
          }
        },
        {
          "data": {"values": [{}]},
          "mark": {"type": "point", "shape": "M-0.27,-1L0.27,-1L0.27,-0.3L0.67,-0.3L0,1L-0.67,-0.3L-0.27,-0.3Z", "size": 625, "filled": true, "color": "#1b1f7a", "opacity": 1},
          "encoding": {
            "x": {"datum": 7.73, "type": "quantitative", "scale": {"type": "log", "domain": [0.773, 2542], "nice": false}, "axis": null},
            "y": {"datum": 0.0678, "type": "quantitative", "scale": {"type": "log", "domain": [5.52e-4, 1], "nice": false}, "axis": null}
          }
        },
        {
          "data": {"values": [{}]},
          "mark": {"type": "point", "shape": "square", "size": 40, "filled": false, "color": "#000000", "strokeWidth": 1.6, "opacity": 1},
          "encoding": {
            "x": {"datum": 452, "type": "quantitative", "scale": {"type": "log", "domain": [0.773, 2542], "nice": false}, "axis": null},
            "y": {"datum": 0.521, "type": "quantitative", "scale": {"type": "log", "domain": [5.52e-4, 1], "nice": false}, "axis": null}
          }
        },
        {
          "data": {"values": [{}]},
          "mark": {"type": "point", "shape": "circle", "size": 64, "filled": false, "color": "#ff0000", "strokeWidth": 1.8, "opacity": 1},
          "encoding": {
            "x": {"datum": 452, "type": "quantitative", "scale": {"type": "log", "domain": [0.773, 2542], "nice": false}, "axis": null},
            "y": {"datum": 0.263, "type": "quantitative", "scale": {"type": "log", "domain": [5.52e-4, 1], "nice": false}, "axis": null}
          }
        },
        {
          "data": {"values": [{}]},
          "mark": {"type": "point", "shape": "triangle-up", "size": 64, "filled": false, "color": "#0000ff", "strokeWidth": 1.8, "opacity": 1},
          "encoding": {
            "x": {"datum": 452, "type": "quantitative", "scale": {"type": "log", "domain": [0.773, 2542], "nice": false}, "axis": null},
            "y": {"datum": 0.137, "type": "quantitative", "scale": {"type": "log", "domain": [5.52e-4, 1], "nice": false}, "axis": null}
          }
        },
        {
          "data": {"values": [{}]},
          "mark": {"type": "text", "text": "P", "fontSize": 19, "align": "left", "baseline": "alphabetic", "dx": 21, "dy": 7, "color": "#000"},
          "encoding": {
            "x": {"datum": 452, "type": "quantitative", "scale": {"type": "log", "domain": [0.773, 2542], "nice": false}, "axis": null},
            "y": {"datum": 0.521, "type": "quantitative", "scale": {"type": "log", "domain": [5.52e-4, 1], "nice": false}, "axis": null}
          }
        },
        {
          "data": {"values": [{}]},
          "mark": {"type": "text", "text": "+", "fontSize": 12, "align": "left", "baseline": "alphabetic", "dx": 32, "dy": 11, "color": "#000"},
          "encoding": {
            "x": {"datum": 452, "type": "quantitative", "scale": {"type": "log", "domain": [0.773, 2542], "nice": false}, "axis": null},
            "y": {"datum": 0.521, "type": "quantitative", "scale": {"type": "log", "domain": [5.52e-4, 1], "nice": false}, "axis": null}
          }
        },
        {
          "data": {"values": [{}]},
          "mark": {"type": "text", "text": "(t)", "fontSize": 20, "align": "left", "baseline": "alphabetic", "dx": 39, "dy": 7, "color": "#000"},
          "encoding": {
            "x": {"datum": 452, "type": "quantitative", "scale": {"type": "log", "domain": [0.773, 2542], "nice": false}, "axis": null},
            "y": {"datum": 0.521, "type": "quantitative", "scale": {"type": "log", "domain": [5.52e-4, 1], "nice": false}, "axis": null}
          }
        },
        {
          "data": {"values": [{}]},
          "mark": {"type": "text", "text": "P", "fontSize": 19, "align": "left", "baseline": "alphabetic", "dx": 21, "dy": 7, "color": "#000"},
          "encoding": {
            "x": {"datum": 452, "type": "quantitative", "scale": {"type": "log", "domain": [0.773, 2542], "nice": false}, "axis": null},
            "y": {"datum": 0.263, "type": "quantitative", "scale": {"type": "log", "domain": [5.52e-4, 1], "nice": false}, "axis": null}
          }
        },
        {
          "data": {"values": [{}]},
          "mark": {"type": "text", "text": "-", "fontSize": 13, "align": "left", "baseline": "alphabetic", "dx": 32, "dy": 9, "color": "#000"},
          "encoding": {
            "x": {"datum": 452, "type": "quantitative", "scale": {"type": "log", "domain": [0.773, 2542], "nice": false}, "axis": null},
            "y": {"datum": 0.263, "type": "quantitative", "scale": {"type": "log", "domain": [5.52e-4, 1], "nice": false}, "axis": null}
          }
        },
        {
          "data": {"values": [{}]},
          "mark": {"type": "text", "text": "(t)", "fontSize": 20, "align": "left", "baseline": "alphabetic", "dx": 36, "dy": 7, "color": "#000"},
          "encoding": {
            "x": {"datum": 452, "type": "quantitative", "scale": {"type": "log", "domain": [0.773, 2542], "nice": false}, "axis": null},
            "y": {"datum": 0.263, "type": "quantitative", "scale": {"type": "log", "domain": [5.52e-4, 1], "nice": false}, "axis": null}
          }
        },
        {
          "data": {"values": [{}]},
          "mark": {"type": "text", "text": "P", "fontSize": 19, "align": "left", "baseline": "alphabetic", "dx": 21, "dy": 7, "color": "#000"},
          "encoding": {
            "x": {"datum": 452, "type": "quantitative", "scale": {"type": "log", "domain": [0.773, 2542], "nice": false}, "axis": null},
            "y": {"datum": 0.137, "type": "quantitative", "scale": {"type": "log", "domain": [5.52e-4, 1], "nice": false}, "axis": null}
          }
        },
        {
          "data": {"values": [{}]},
          "mark": {"type": "text", "text": "g", "fontSize": 13, "align": "left", "baseline": "alphabetic", "dx": 33, "dy": 11, "color": "#000"},
          "encoding": {
            "x": {"datum": 452, "type": "quantitative", "scale": {"type": "log", "domain": [0.773, 2542], "nice": false}, "axis": null},
            "y": {"datum": 0.137, "type": "quantitative", "scale": {"type": "log", "domain": [5.52e-4, 1], "nice": false}, "axis": null}
          }
        },
        {
          "data": {"values": [{}]},
          "mark": {"type": "text", "text": "(t)", "fontSize": 20, "align": "left", "baseline": "alphabetic", "dx": 41, "dy": 7, "color": "#000"},
          "encoding": {
            "x": {"datum": 452, "type": "quantitative", "scale": {"type": "log", "domain": [0.773, 2542], "nice": false}, "axis": null},
            "y": {"datum": 0.137, "type": "quantitative", "scale": {"type": "log", "domain": [5.52e-4, 1], "nice": false}, "axis": null}
          }
        },
        {
          "data": {"name": "daysInset"},
          "mark": {"type": "point", "shape": "square", "size": 14, "filled": false, "color": "#000000", "strokeWidth": 0.9, "opacity": 0.5},
          "encoding": {
            "x": {"field": "t", "type": "quantitative", "scale": {"type": "log", "domain": [0.909, 112.2], "range": [30.3, 243], "nice": false},
              "axis": {"orient": "bottom", "offset": -23, "tickCount": 40, "values": [1,2,3,4,5,6,7,8,9,10,20,30,40,50,60,70,80,90,100],
                "labelExpr": "datum.value == 1 ? '1' : datum.value == 10 ? '10' : datum.value == 100 ? '100' : ''",
                "tickSize": {"condition": {"test": "abs(log(datum.value)/LN10-round(log(datum.value)/LN10))<0.01", "value": 4}, "value": 2.5},
                "domain": true, "domainColor": "#888", "domainWidth": 1.3, "tickColor": "#888", "labelFontSize": 15, "labelPadding": 2, "labelOverlap": false, "title": null}},
            "y": {"field": "p", "type": "quantitative", "scale": {"type": "log", "domain": [0.0257, 1.005], "range": [280, 112.8], "nice": false},
              "axis": {"orient": "left", "offset": -30.3, "tickCount": 40, "values": [0.03,0.04,0.05,0.06,0.07,0.08,0.09,0.1,0.2,0.3,0.4,0.5,0.6,0.7,0.8,0.9,1],
                "labelExpr": "datum.value == 0.1 ? '0.1' : ''",
                "tickSize": {"condition": {"test": "abs(log(datum.value)/LN10-round(log(datum.value)/LN10))<0.01", "value": 4}, "value": 2.5},
                "domain": true, "domainColor": "#888", "domainWidth": 1.3, "tickColor": "#888", "labelFontSize": 15, "labelPadding": 3, "labelOverlap": false, "title": null}}
          }
        },
        {
          "data": {"name": "daysInset"},
          "mark": {"type": "point", "shape": "circle", "size": 16, "filled": false, "color": "#ff0000", "strokeWidth": 0.9, "opacity": 0.5},
          "encoding": {
            "x": {"field": "t", "type": "quantitative", "scale": {"type": "log", "domain": [0.909, 112.2], "range": [30.3, 243], "nice": false}, "axis": null},
            "y": {"field": "m", "type": "quantitative", "scale": {"type": "log", "domain": [0.0257, 1.005], "range": [280, 112.8], "nice": false}, "axis": null}
          }
        },
        {
          "data": {"name": "daysInset"},
          "mark": {"type": "point", "shape": "triangle-up", "size": 18, "filled": false, "color": "#0000ff", "strokeWidth": 0.9, "opacity": 0.5},
          "encoding": {
            "x": {"field": "t", "type": "quantitative", "scale": {"type": "log", "domain": [0.909, 112.2], "range": [30.3, 243], "nice": false}, "axis": null},
            "y": {"field": "g", "type": "quantitative", "scale": {"type": "log", "domain": [0.0257, 1.005], "range": [280, 112.8], "nice": false}, "axis": null}
          }
        },
        {
          "data": {"name": "daysFit"},
          "mark": {"type": "line", "color": "#22e022", "strokeWidth": 1.3},
          "encoding": {
            "x": {"field": "t", "type": "quantitative", "scale": {"type": "log", "domain": [0.909, 112.2], "range": [30.3, 243], "nice": false}, "axis": null},
            "y": {"field": "g", "type": "quantitative", "scale": {"type": "log", "domain": [0.0257, 1.005], "range": [280, 112.8], "nice": false}, "axis": null}
          }
        },
        {
          "data": {"values": [{}]},
          "mark": {"type": "point", "shape": "triangle-up", "size": 45, "filled": true, "color": "#000", "opacity": 1},
          "encoding": {
            "x": {"datum": 0.909, "type": "quantitative", "scale": {"type": "log", "domain": [0.909, 112.2], "range": [30.3, 243], "nice": false}, "axis": null},
            "y": {"datum": 1.045, "type": "quantitative", "scale": {"type": "log", "domain": [0.0257, 1.005], "range": [280, 112.8], "nice": false}, "axis": null}
          }
        },
        {
          "data": {"values": [{}]},
          "mark": {"type": "text", "text": "1", "fontSize": 16, "align": "right", "baseline": "middle", "color": "#000"},
          "encoding": {
            "x": {"datum": 0.771, "type": "quantitative", "scale": {"type": "log", "domain": [0.909, 112.2], "range": [30.3, 243], "nice": false}, "axis": null},
            "y": {"datum": 1, "type": "quantitative", "scale": {"type": "log", "domain": [0.0257, 1.005], "range": [280, 112.8], "nice": false}, "axis": null}
          }
        },
        {
          "data": {"values": [{}]},
          "mark": {"type": "point", "shape": "triangle-right", "size": 67, "filled": true, "color": "#000", "opacity": 1},
          "encoding": {
            "x": {"datum": 119.4, "type": "quantitative", "scale": {"type": "log", "domain": [0.909, 112.2], "range": [30.3, 243], "nice": false}, "axis": null},
            "y": {"datum": 0.0257, "type": "quantitative", "scale": {"type": "log", "domain": [0.0257, 1.005], "range": [280, 112.8], "nice": false}, "axis": null}
          }
        },
        {
          "data": {"values": [{}]},
          "mark": {"type": "text", "text": "t", "fontSize": 19, "align": "left", "baseline": "alphabetic", "color": "#1f1fa0"},
          "encoding": {
            "x": {"datum": 140.7, "type": "quantitative", "scale": {"type": "log", "domain": [0.909, 112.2], "range": [30.3, 243], "nice": false}, "axis": null},
            "y": {"datum": 0.023, "type": "quantitative", "scale": {"type": "log", "domain": [0.0257, 1.005], "range": [280, 112.8], "nice": false}, "axis": null}
          }
        }
      ]
    }
  ]
}
